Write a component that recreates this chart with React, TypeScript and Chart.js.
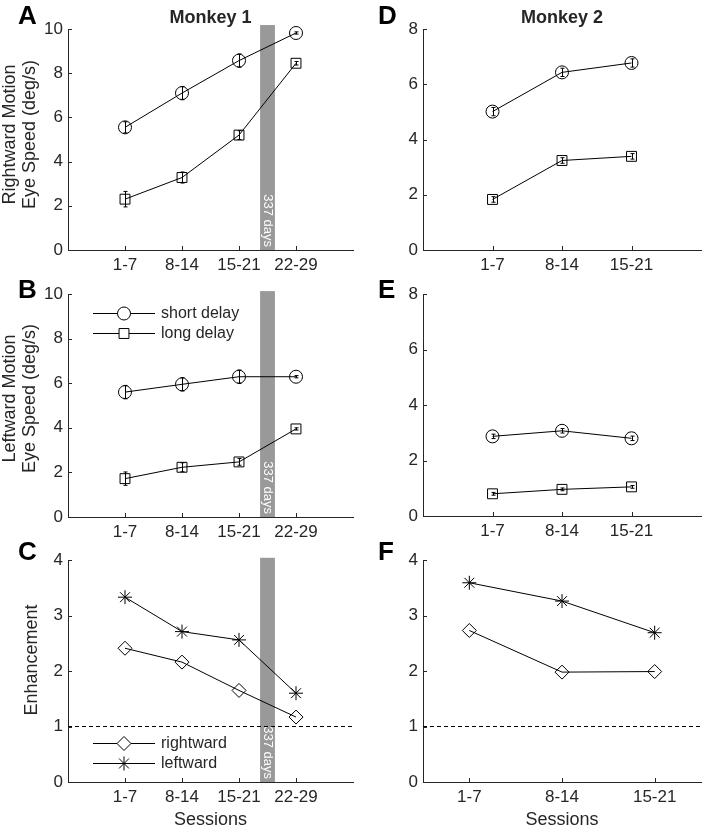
import React, { useEffect, useRef } from "react";
import { Chart, registerables } from "chart.js";

Chart.register(...registerables);

const FONT = "'Liberation Sans', Arial, Helvetica, sans-serif";
const TXT = "#262626";

// ---------- data ----------
const sessionsM1 = ["1-7", "8-14", "15-21", "22-29"];
const sessionsM2 = ["1-7", "8-14", "15-21"];

// Monkey 1, rightward motion eye speed (deg/s)
const m1RightShort = [5.55, 7.1, 8.57, 9.82];
const m1RightShortErr = [0.25, 0.3, 0.3, 0.05];
const m1RightLong = [2.3, 3.28, 5.2, 8.45];
const m1RightLongErr = [0.35, 0.25, 0.2, 0.08];
// Monkey 1, leftward motion eye speed (deg/s)
const m1LeftShort = [5.6, 5.95, 6.29, 6.29];
const m1LeftShortErr = [0.3, 0.3, 0.3, 0.05];
const m1LeftLong = [1.72, 2.23, 2.47, 3.95];
const m1LeftLongErr = [0.3, 0.2, 0.15, 0.05];
// Monkey 1, enhancement
const m1EnhRight = [2.41, 2.16, 1.65, 1.17];
const m1EnhLeft = [3.33, 2.71, 2.56, 1.6];

// Monkey 2
const m2RightShort = [5.01, 6.43, 6.77];
const m2RightShortErr = [0.15, 0.15, 0.15];
const m2RightLong = [1.83, 3.24, 3.39];
const m2RightLongErr = [0.1, 0.1, 0.1];
const m2LeftShort = [2.87, 3.07, 2.8];
const m2LeftShortErr = [0.08, 0.08, 0.08];
const m2LeftLong = [0.8, 0.96, 1.05];
const m2LeftLongErr = [0.05, 0.05, 0.05];
const m2EnhRight = [2.73, 1.98, 1.99];
const m2EnhLeft = [3.59, 3.26, 2.69];

// gap between sessions 15-21 and 22-29 (monkey 1)
const gapLabel = "337 days";
const gapRange = [3.37, 3.63];

// ---------- layout ----------
type Series = { label: string; values: number[]; err?: number[]; style: string; radius: number };
type Panel = {
  letter: string;
  letterPos: [number, number];
  header?: string;
  area: { l: number; t: number; r: number; b: number };
  colLeft: number;
  xMin: number;
  xMax: number;
  cats: string[];
  yMax: number;
  yStep: number;
  yTitle?: string[];
  yTitleX?: number[];
  yTitleShift?: number;
  xTitle?: string;
  series: Series[];
  gapTop?: number;
  legendRows?: number[];
  refLine?: number;
};

const W = 709;
const H = 830;

const panels: Panel[] = [
  {
    letter: "A", letterPos: [18, 24], header: "Monkey 1",
    area: { l: 68, t: 29, r: 353, b: 250 }, colLeft: 0, xMin: 0, xMax: 5, cats: sessionsM1,
    yMax: 10, yStep: 2, yTitle: ["Rightward Motion", "Eye Speed (deg/s)"], yTitleX: [10, 30], yTitleShift: -5,
    series: [
      { label: "short delay", values: m1RightShort, err: m1RightShortErr, style: "circle", radius: 6.5 },
      { label: "long delay", values: m1RightLong, err: m1RightLongErr, style: "rect", radius: 7 },
    ],
    gapTop: 10.18,
  },
  {
    letter: "B", letterPos: [18, 298],
    area: { l: 68, t: 294, r: 353, b: 517 }, colLeft: 0, xMin: 0, xMax: 5, cats: sessionsM1,
    yMax: 10, yStep: 2, yTitle: ["Leftward Motion", "Eye Speed (deg/s)"], yTitleX: [10, 30], yTitleShift: -7,
    series: [
      { label: "short delay", values: m1LeftShort, err: m1LeftShortErr, style: "circle", radius: 6.5 },
      { label: "long delay", values: m1LeftLong, err: m1LeftLongErr, style: "rect", radius: 7 },
    ],
    gapTop: 10.13, legendRows: [313, 333],
  },
  {
    letter: "C", letterPos: [18, 560],
    area: { l: 68, t: 560, r: 353, b: 782 }, colLeft: 0, xMin: 0, xMax: 5, cats: sessionsM1,
    yMax: 4, yStep: 1, yTitle: ["Enhancement"], yTitleX: [32], yTitleShift: -11, xTitle: "Sessions",
    series: [
      { label: "rightward", values: m1EnhRight, style: "rectRot", radius: 7 },
      { label: "leftward", values: m1EnhLeft, style: "star", radius: 7 },
    ],
    gapTop: 4.04, legendRows: [743, 763], refLine: 1,
  },
  {
    letter: "D", letterPos: [378, 24], header: "Monkey 2",
    area: { l: 423, t: 29, r: 705, b: 250 }, colLeft: 360, xMin: 0, xMax: 4, cats: sessionsM2,
    yMax: 8, yStep: 2,
    series: [
      { label: "short delay", values: m2RightShort, err: m2RightShortErr, style: "circle", radius: 6.5 },
      { label: "long delay", values: m2RightLong, err: m2RightLongErr, style: "rect", radius: 7 },
    ],
  },
  {
    letter: "E", letterPos: [378, 298],
    area: { l: 423, t: 294, r: 705, b: 516 }, colLeft: 360, xMin: 0, xMax: 4, cats: sessionsM2,
    yMax: 8, yStep: 2,
    series: [
      { label: "short delay", values: m2LeftShort, err: m2LeftShortErr, style: "circle", radius: 6.5 },
      { label: "long delay", values: m2LeftLong, err: m2LeftLongErr, style: "rect", radius: 7 },
    ],
  },
  {
    letter: "F", letterPos: [378, 560],
    area: { l: 423, t: 560, r: 705, b: 782 }, colLeft: 360, xMin: 0.5, xMax: 3.5, cats: sessionsM2,
    yMax: 4, yStep: 1, xTitle: "Sessions",
    series: [
      { label: "rightward", values: m2EnhRight, style: "rectRot", radius: 7 },
      { label: "leftward", values: m2EnhLeft, style: "star", radius: 7 },
    ],
    refLine: 1,
  },
];

function drawMarker(ctx: CanvasRenderingContext2D, style: string, x: number, y: number, r: number) {
  ctx.beginPath();
  if (style === "circle") {
    ctx.arc(x, y, r, 0, Math.PI * 2);
  } else if (style === "rect") {
    const s = r * Math.SQRT1_2;
    ctx.rect(x - s, y - s, 2 * s, 2 * s);
  } else if (style === "rectRot") {
    ctx.moveTo(x - r, y);
    ctx.lineTo(x, y - r);
    ctx.lineTo(x + r, y);
    ctx.lineTo(x, y + r);
    ctx.closePath();
  } else if (style === "star") {
    for (let k = 0; k < 4; k++) {
      const a = (k * Math.PI) / 4;
      ctx.moveTo(x - Math.cos(a) * r, y - Math.sin(a) * r);
      ctx.lineTo(x + Math.cos(a) * r, y + Math.sin(a) * r);
    }
  }
  if (style !== "star") {
    ctx.fill();
  }
  ctx.stroke();
}

function makeDecor(p: Panel) {
  return {
    id: "decor" + p.letter,
    beforeDatasetsDraw(chart: any) {
      if (p.gapTop === undefined) return;
      const { ctx, scales } = chart;
      const x0 = scales.x.getPixelForValue(gapRange[0]);
      const x1 = scales.x.getPixelForValue(gapRange[1]);
      const yt = scales.y.getPixelForValue(p.gapTop);
      const yb = scales.y.getPixelForValue(0);
      ctx.save();
      ctx.fillStyle = "#999999";
      ctx.fillRect(x0, yt, x1 - x0, yb - yt);
      ctx.translate((x0 + x1) / 2, yb - 3);
      ctx.rotate(Math.PI / 2);
      ctx.fillStyle = "#ffffff";
      ctx.font = `13px ${FONT}`;
      ctx.textAlign = "right";
      ctx.textBaseline = "middle";
      ctx.fillText(gapLabel, 0, 0);
      ctx.restore();
    },
    afterDatasetsDraw(chart: any) {
      const { ctx, scales, chartArea } = chart;
      const xs = scales.x;
      const ys = scales.y;
      ctx.save();
      ctx.strokeStyle = "#000";
      ctx.lineWidth = 1;
      // error bars
      p.series.forEach((s) => {
        if (!s.err) return;
        s.values.forEach((v, i) => {
          const e = s.err![i];
          const px = Math.round(xs.getPixelForValue(i + 1)) + 0.5;
          const yTop = ys.getPixelForValue(v + e);
          const yBot = ys.getPixelForValue(v - e);
          ctx.beginPath();
          ctx.moveTo(px, yTop);
          ctx.lineTo(px, yBot);
          ctx.moveTo(px - 2, yTop);
          ctx.lineTo(px + 2, yTop);
          ctx.moveTo(px - 2, yBot);
          ctx.lineTo(px + 2, yBot);
          ctx.stroke();
        });
      });
      // inward tick marks
      ctx.strokeStyle = TXT;
      ctx.beginPath();
      p.cats.forEach((_, i) => {
        const px = Math.round(xs.getPixelForValue(i + 1)) + 0.5;
        ctx.moveTo(px, chartArea.bottom);
        ctx.lineTo(px, chartArea.bottom - 4);
      });
      ys.ticks.forEach((t: any) => {
        const py = Math.round(ys.getPixelForValue(t.value)) + 0.5;
        ctx.moveTo(chartArea.left, py);
        ctx.lineTo(chartArea.left + 4, py);
      });
      ctx.stroke();
      // legend (inside the axes, as in the figure)
      if (p.legendRows) {
        const lx0 = chartArea.left + 25;
        const lx1 = chartArea.left + 87;
        const mx = chartArea.left + 56;
        const tx = chartArea.left + 93;
        p.series.forEach((s, i) => {
          const ry = p.legendRows![i] + 0.5;
          ctx.strokeStyle = "#000";
          ctx.beginPath();
          ctx.moveTo(lx0, ry);
          ctx.lineTo(lx1, ry);
          ctx.stroke();
          ctx.fillStyle = "#fff";
          drawMarker(ctx, s.style, mx, ry, s.radius);
          ctx.fillStyle = TXT;
          ctx.font = `16px ${FONT}`;
          ctx.textAlign = "left";
          ctx.textBaseline = "middle";
          ctx.fillText(s.label, tx, ry);
        });
      }
      ctx.restore();
    },
    afterDraw(chart: any) {
      const { ctx, chartArea } = chart;
      ctx.save();
      ctx.fillStyle = "#000";
      ctx.font = `bold 26px ${FONT}`;
      ctx.textAlign = "left";
      ctx.textBaseline = "alphabetic";
      ctx.fillText(p.letter, p.letterPos[0], p.letterPos[1]);
      if (p.header) {
        ctx.fillStyle = TXT;
        ctx.font = `bold 18px ${FONT}`;
        ctx.textAlign = "center";
        ctx.fillText(p.header, (chartArea.left + chartArea.right) / 2, 23);
      }
      // y-axis title (MATLAB places it slightly above the axis centre)
      if (p.yTitle) {
        const cy = (chartArea.top + chartArea.bottom) / 2 + (p.yTitleShift ?? 0);
        ctx.fillStyle = TXT;
        ctx.font = `18px ${FONT}`;
        ctx.textAlign = "center";
        ctx.textBaseline = "middle";
        p.yTitle.forEach((line, i) => {
          ctx.save();
          ctx.translate(p.yTitleX![i], cy);
          ctx.rotate(-Math.PI / 2);
          ctx.fillText(line, 0, 0);
          ctx.restore();
        });
      }
      ctx.restore();
    },
  };
}

function buildConfig(p: Panel): any {
  const xh = p.xTitle ? H - p.area.b : 30;
  const yw = p.area.l - p.colLeft;
  const datasets: any[] = p.series.map((s) => ({
    label: s.label,
    data: s.values.map((v, i) => ({ x: i + 1, y: v })),
    borderColor: "#000",
    borderWidth: 1,
    backgroundColor: "transparent",
    pointStyle: s.style,
    pointRadius: s.radius,
    pointBorderColor: "#000",
    pointBackgroundColor: "transparent",
    pointBorderWidth: 1,
    tension: 0,
    clip: false,
  }));
  if (p.refLine !== undefined) {
    datasets.push({
      label: "baseline",
      data: [
        { x: p.xMin, y: p.refLine },
        { x: p.xMax, y: p.refLine },
      ],
      borderColor: "#000",
      borderWidth: 1,
      borderDash: [4, 3],
      pointRadius: 0,
      clip: false,
    });
  }
  return {
    type: "line",
    data: { datasets },
    plugins: [makeDecor(p)],
    options: {
      responsive: false,
      animation: false,
      devicePixelRatio: 1,
      events: [],
      layout: {
        padding: { left: p.colLeft, top: p.area.t, right: W - p.area.r, bottom: H - p.area.b - xh },
      },
      plugins: { legend: { display: false }, tooltip: { enabled: false } },
      scales: {
        x: {
          type: "linear",
          min: p.xMin,
          max: p.xMax,
          afterBuildTicks: (s: any) => {
            s.ticks = p.cats.map((_, i) => ({ value: i + 1 }));
          },
          afterFit: (s: any) => {
            s.height = xh;
          },
          ticks: {
            callback: (v: any) => p.cats[Math.round(v) - 1] ?? "",
            font: { family: FONT, size: 17 },
            color: TXT,
            padding: 5,
            maxRotation: 0,
            autoSkip: false,
          },
          grid: { display: false, drawTicks: false },
          border: { display: true, color: TXT, width: 1 },
          title: p.xTitle
            ? { display: true, text: p.xTitle, font: { family: FONT, size: 18, lineHeight: "20px" }, color: TXT, padding: { top: 0, bottom: 0 } }
            : { display: false },
        },
        y: {
          type: "linear",
          min: 0,
          max: p.yMax,
          afterFit: (s: any) => {
            s.width = yw;
          },
          ticks: { stepSize: p.yStep, font: { family: FONT, size: 17 }, color: TXT, padding: 5 },
          grid: { display: false, drawTicks: false },
          border: { display: true, color: TXT, width: 1 },
          title: { display: false },
        },
      },
    },
  };
}

function PanelChart({ p }: { p: Panel }) {
  const ref = useRef<HTMLCanvasElement>(null);
  useEffect(() => {
    const chart = new Chart(ref.current as HTMLCanvasElement, buildConfig(p));
    return () => chart.destroy();
  }, [p]);
  return (
    <canvas
      ref={ref}
      width={W}
      height={H}
      style={{ position: "absolute", left: 0, top: 0, width: W, height: H }}
    />
  );
}

export default function App() {
  return (
    <div style={{ position: "fixed", left: 0, top: 0, width: W, height: H, background: "#fff" }}>
      {panels.map((p) => (
        <PanelChart key={p.letter} p={p} />
      ))}
    </div>
  );
}
